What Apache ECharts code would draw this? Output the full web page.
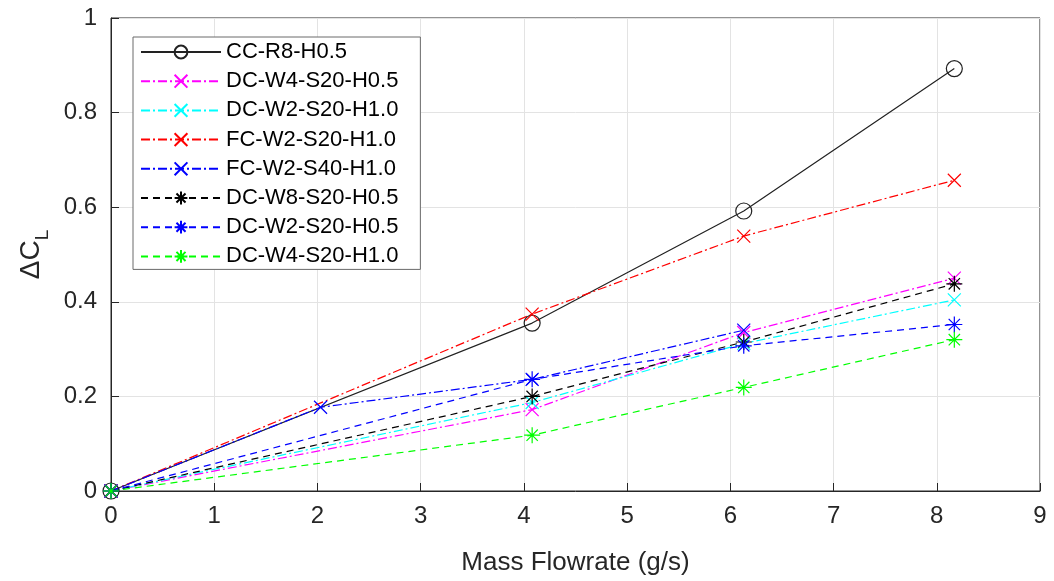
<!DOCTYPE html>
<html>
<head>
<meta charset="utf-8">
<script src="https://cdn.jsdelivr.net/npm/echarts@6/dist/echarts.min.js"></script>
<style>
html,body{margin:0;padding:0;background:#fff;}
#chart{width:1054px;height:581px;}
</style>
</head>
<body>
<div id="chart"></div>
<script>
// ---- data ----
const flow = [0, 4.08, 6.13, 8.17];
const flowS40 = [0, 2.03, 4.08, 6.13];
const ccR8H05 = [0, 0.355, 0.592, 0.893];
const dcW4S20H05 = [0, 0.172, 0.335, 0.450];
const dcW2S20H10 = [0, 0.187, 0.312, 0.404];
const fcW2S20H10 = [0, 0.374, 0.539, 0.657];
const fcW2S40H10 = [0, 0.177, 0.236, 0.340];
const dcW8S20H05 = [0, 0.200, 0.315, 0.438];
const dcW2S20H05 = [0, 0.236, 0.307, 0.352];
const dcW4S20H10 = [0, 0.118, 0.219, 0.320];
const seriesNames = ['CC-R8-H0.5','DC-W4-S20-H0.5','DC-W2-S20-H1.0','FC-W2-S20-H1.0','FC-W2-S40-H1.0','DC-W8-S20-H0.5','DC-W2-S20-H0.5','DC-W4-S20-H1.0'];
const xTicks = [0,1,2,3,4,5,6,7,8,9];

const X_SYM = 'path://M0,0L10,10M0,10L10,0';
const STAR_SYM = 'path://M5,0L5,10M0,5L10,5M1.46,1.46L8.54,8.54M1.46,8.54L8.54,1.46';
const DASHDOT = [9,3,2,3];
const DASH = [7,5];

function pairs(xs, ys){ return xs.map((x,i)=>[x, ys[i]]); }

function mk(name, xs, ys, color, sym, size, dash){
  return {
    name: name, type: 'line', data: pairs(xs, ys),
    symbol: sym, symbolSize: size, showSymbol: true,
    lineStyle: {color: color, width: 1.2, type: dash},
    itemStyle: {color: sym === 'circle' ? 'rgba(0,0,0,0)' : color, borderColor: color, borderWidth: 1.2},
    emphasis: {disabled: true},
    animation: false
  };
}

const series = [
  mk(seriesNames[0], flow, ccR8H05, '#222222', 'circle', 16, 'solid'),
  mk(seriesNames[1], flow, dcW4S20H05, '#ff00ff', X_SYM, 13, DASHDOT),
  mk(seriesNames[2], flow, dcW2S20H10, '#00ffff', X_SYM, 13, DASHDOT),
  mk(seriesNames[3], flow, fcW2S20H10, '#ff0000', X_SYM, 13, DASHDOT),
  mk(seriesNames[4], flowS40, fcW2S40H10, '#0000ff', X_SYM, 13, DASHDOT),
  mk(seriesNames[5], flow, dcW8S20H05, '#000000', STAR_SYM, 16, DASH),
  mk(seriesNames[6], flow, dcW2S20H05, '#0000ff', STAR_SYM, 16, DASH),
  mk(seriesNames[7], flow, dcW4S20H10, '#00ff00', STAR_SYM, 16, DASH)
];

const axisColor = '#262626';
const font = 'Liberation Sans, Arial, sans-serif';

const chart = echarts.init(document.getElementById('chart'), null, {renderer: 'canvas'});
chart.setOption({
  backgroundColor: '#ffffff',
  animation: false,
  textStyle: {fontFamily: font},
  grid: {left: 111, right: 14, top: 18, bottom: 88, show: true, borderColor: axisColor, borderWidth: 1, backgroundColor: 'transparent'},
  legend: {
    data: seriesNames, orient: 'vertical', left: 133, top: 37,
    backgroundColor: '#ffffff', borderColor: '#6a6a6a', borderWidth: 1,
    padding: [4, 22, 2, 7], itemWidth: 80, itemHeight: 16, itemGap: 7.2,
    textStyle: {fontSize: 22, color: '#000', fontFamily: font},
    selectedMode: false
  },
  xAxis: {
    type: 'value', min: 0, max: 9, interval: 1,
    name: 'Mass Flowrate (g/s)', nameLocation: 'middle', nameGap: 59,
    nameTextStyle: {fontSize: 26, color: axisColor, fontFamily: font},
    axisLine: {show: true, onZero: false, lineStyle: {color: axisColor, width: 1}},
    axisTick: {show: true, inside: true, length: 8, lineStyle: {color: axisColor}},
    axisLabel: {fontSize: 24, color: axisColor, margin: 13, formatter: v => String(xTicks[Math.round(v)])},
    splitLine: {show: true, lineStyle: {color: '#e3e3e3', width: 1}}
  },
  yAxis: {
    type: 'value', min: 0, max: 1, interval: 0.2,
    name: '{a|ΔC}{s|L}', nameLocation: 'middle', nameGap: 50, nameRotate: 90,
    nameTextStyle: {
      color: axisColor, fontFamily: font,
      rich: {
        a: {fontSize: 28, color: axisColor, fontFamily: font, verticalAlign: 'top', lineHeight: 28},
        s: {fontSize: 19, color: axisColor, fontFamily: font, verticalAlign: 'top', lineHeight: 19, padding: [16, 0, 0, 0]}
      }
    },
    axisLine: {show: true, onZero: false, lineStyle: {color: axisColor, width: 1}},
    axisTick: {show: true, inside: true, length: 8, lineStyle: {color: axisColor}},
    axisLabel: {fontSize: 24, color: axisColor, margin: 14},
    splitLine: {show: true, lineStyle: {color: '#e3e3e3', width: 1}}
  },
  series: series
});
</script>
</body>
</html>
